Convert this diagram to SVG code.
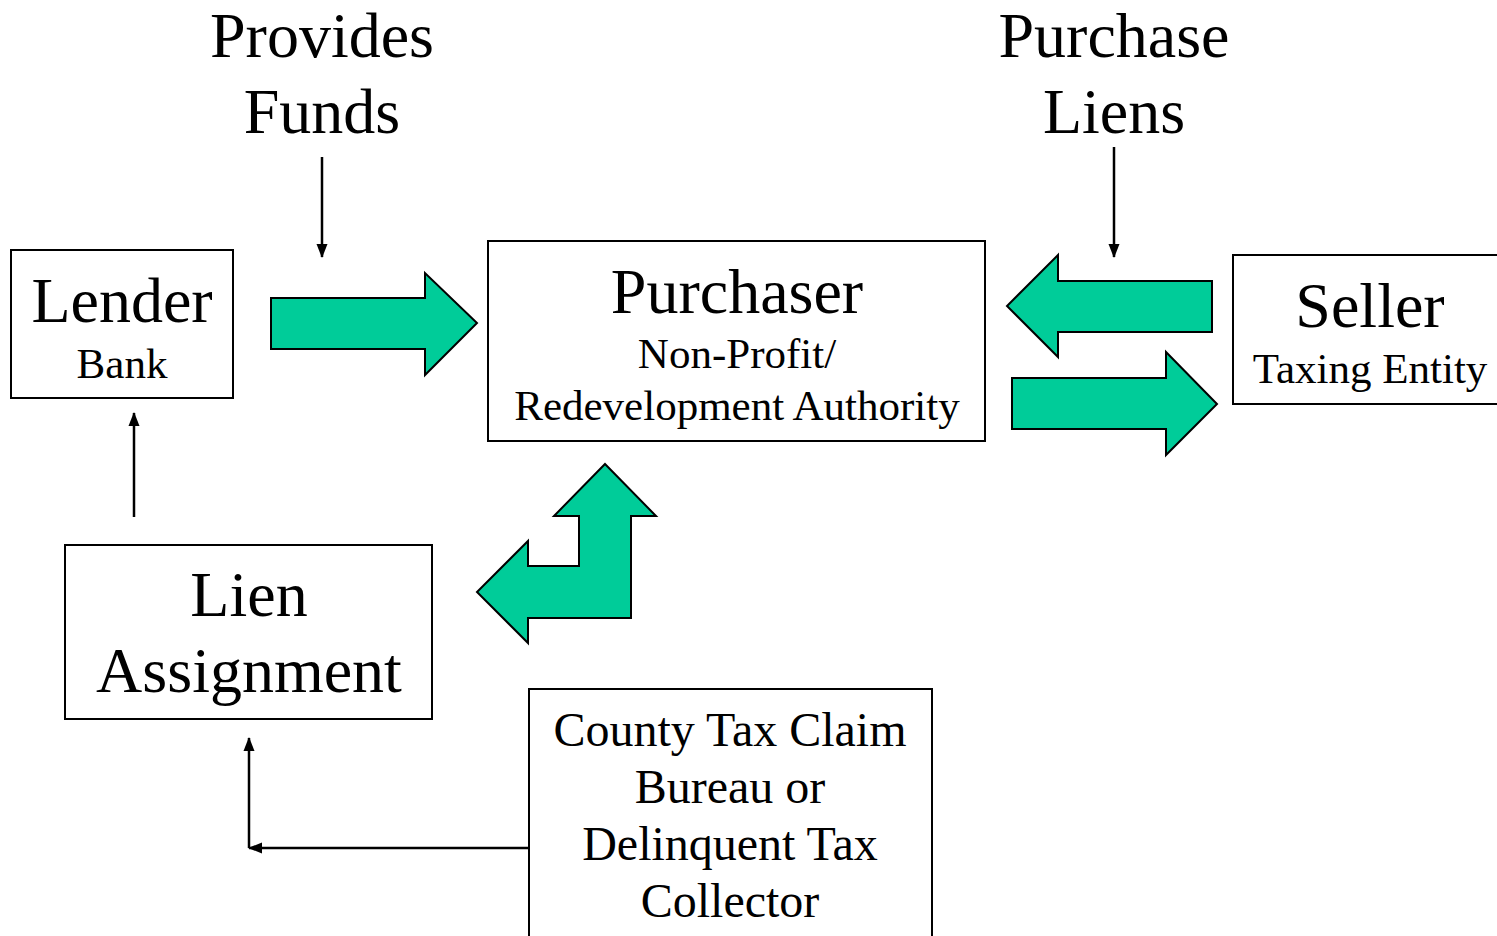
<svg xmlns="http://www.w3.org/2000/svg" width="1497" height="936" viewBox="0 0 1497 936">
<style>
.box{fill:#fff;stroke:#000;stroke-width:2}
.big{fill:#00CC99;stroke:#000;stroke-width:2;stroke-linejoin:miter}
.t{font-family:"Liberation Serif","Times New Roman",serif;fill:#000;text-anchor:middle}
.l{font-size:64px}
.s{font-size:43px}
.c{font-size:48px}
.ln{stroke:#000;stroke-width:2.5;fill:none}
</style>
<defs>
<marker id="ah" viewBox="0 0 14 12" refX="13" refY="6" markerWidth="14" markerHeight="12" markerUnits="userSpaceOnUse" orient="auto">
<path d="M0,0.5 L14,6 L0,11.5 Z" fill="#000"/>
</marker>
</defs>
<rect width="1497" height="936" fill="#fff"/>
<g id="label-provides"><text class="t l" x="322" y="57">Provides</text><text class="t l" x="322" y="133">Funds</text></g>
<g id="label-purchase"><text class="t l" x="1114" y="57">Purchase</text><text class="t l" x="1114" y="133">Liens</text></g>
<g id="lender"><rect class="box" x="11" y="250" width="222" height="148"/><text class="t l" x="122" y="322">Lender</text><text class="t s" x="122" y="378">Bank</text></g>
<g id="purchaser"><rect class="box" x="488" y="241" width="497" height="200"/><text class="t l" x="737" y="313">Purchaser</text><text class="t s" x="737" y="368">Non-Profit/</text><text class="t s" x="737" y="420">Redevelopment Authority</text></g>
<g id="seller"><rect class="box" x="1233" y="255" width="270" height="149"/><text class="t l" x="1370" y="327">Seller</text><text class="t s" x="1370" y="383">Taxing Entity</text></g>
<g id="lien"><rect class="box" x="65" y="545" width="367" height="174"/><text class="t l" x="249" y="616">Lien</text><text class="t l" x="249" y="692">Assignment</text></g>
<g id="county"><rect class="box" x="529" y="689" width="403" height="260"/><text class="t c" x="730" y="746">County Tax Claim</text><text class="t c" x="730" y="803">Bureau or</text><text class="t c" x="730" y="860">Delinquent Tax</text><text class="t c" x="730" y="917">Collector</text></g>
<g id="connectors">
<polygon class="big" points="271,298 425,298 425,273 477,323 425,375 425,349 271,349"/>
<polygon class="big" points="1212,281 1058,281 1058,255 1007,306 1058,357 1058,332 1212,332"/>
<polygon class="big" points="1012,378 1166,378 1166,352 1217,404 1166,455 1166,429 1012,429"/>
<polygon class="big" points="605,464 656,516 631,516 631,618 528,618 528,643 477,592 528,541 528,566 579,566 579,516 554,516"/>
<line class="ln" x1="322" y1="157" x2="322" y2="257" marker-end="url(#ah)"/>
<line class="ln" x1="1114" y1="147" x2="1114" y2="257" marker-end="url(#ah)"/>
<line class="ln" x1="134" y1="517" x2="134" y2="413" marker-end="url(#ah)"/>
<polyline class="ln" points="528,848 249,848" marker-end="url(#ah)"/>
<line class="ln" x1="249" y1="848" x2="249" y2="738" marker-end="url(#ah)"/>
</g>
</svg>
